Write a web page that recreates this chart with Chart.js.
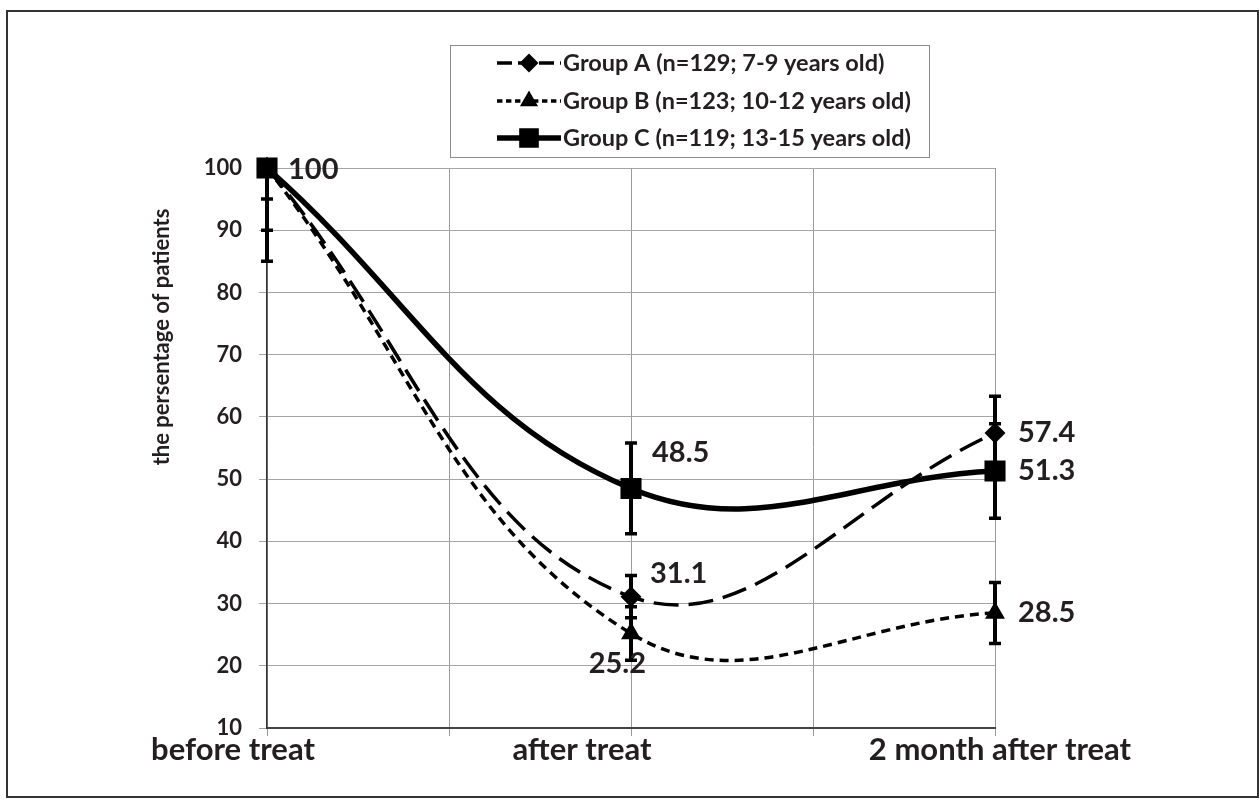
<!DOCTYPE html>
<html>
<head>
<meta charset="utf-8">
<script src="https://cdn.jsdelivr.net/npm/chart.js@4.4.1/dist/chart.umd.min.js"></script>
<style>
  html, body { margin: 0; padding: 0; background: #fff; }
  #wrap { width: 1260px; height: 807px; }
</style>
</head>
<body>
<div id="wrap"><canvas id="chart" width="1260" height="807"></canvas></div>
<script>
// time points (x on a linear scale, gridline every 1 unit)
const categories = ['before treat', 'after treat', '2 month after treat'];
const timeSteps = [0, 2, 4];

const seriesNames = [
    'Group A (n=129; 7-9 years old)',
    'Group B (n=123; 10-12 years old)',
    'Group C (n=119; 13-15 years old)'
];
const groupA = [100, 31.1, 57.4];
const groupB = [100, 25.2, 28.5];
const groupC = [100, 48.5, 51.3];

const errA = [5, 3.4, 5.9];
const errB = [10, 4.3, 4.9];
const errC = [15, 7.3, 7.6];

const yMin = 10;
const yMax = 100;
const yStep = 10;

const INK = '#231f20';
const FONT = 'Lato, "Open Sans", sans-serif';

function toPoints(values) {
    return values.map((v, i) => ({ x: timeSteps[i], y: v }));
}

const datasets = [
    {
        label: seriesNames[0], data: toPoints(groupA), err: errA,
        borderColor: '#000', backgroundColor: '#000', borderWidth: 3.5,
        borderDash: [25, 10], pointStyle: 'rectRot', pointRadius: 8,
        labelPos: [null, { dx: 19, dy: -23, align: 'left' }, { dx: 23, dy: 0, align: 'left' }]
    },
    {
        label: seriesNames[1], data: toPoints(groupB), err: errB,
        borderColor: '#000', backgroundColor: '#000', borderWidth: 3.5,
        borderDash: [9, 6], pointStyle: 'triangle', pointRadius: 8,
        labelPos: [null, { dx: 15, dy: 30, align: 'right' }, { dx: 23, dy: 0, align: 'left' }]
    },
    {
        label: seriesNames[2], data: toPoints(groupC), err: errC,
        borderColor: '#000', backgroundColor: '#000', borderWidth: 5.5,
        borderDash: [], pointStyle: 'rect', pointRadius: 11,
        labelPos: [{ dx: 21, dy: 2, align: 'left' }, { dx: 21, dy: -36, align: 'left' }, { dx: 23, dy: 0, align: 'left' }]
    }
];
datasets.forEach(ds => { ds.clip = false; });

const decor = {
    id: 'decor',
    beforeDraw(chart) {
        const ctx = chart.ctx;
        ctx.save();
        ctx.fillStyle = '#fff';
        ctx.fillRect(0, 0, chart.width, chart.height);
        ctx.strokeStyle = '#333';
        ctx.lineWidth = 2;
        ctx.strokeRect(7, 11, 1251, 786);
        ctx.restore();
    },
    afterDatasetsDraw(chart) {
        const ctx = chart.ctx;
        const xs = chart.scales.x;
        const ys = chart.scales.y;
        const area = chart.chartArea;

        // error bars
        ctx.save();
        ctx.beginPath();
        ctx.rect(area.left - 10, area.top, area.right - area.left + 20, area.bottom - area.top);
        ctx.clip();
        ctx.strokeStyle = '#000';
        chart.data.datasets.forEach(ds => {
            ds.data.forEach((p, i) => {
                const x = xs.getPixelForValue(p.x);
                const yTop = ys.getPixelForValue(p.y + ds.err[i]);
                const yBot = ys.getPixelForValue(p.y - ds.err[i]);
                ctx.lineWidth = 4;
                ctx.beginPath();
                ctx.moveTo(x, yTop);
                ctx.lineTo(x, yBot);
                ctx.stroke();
                ctx.lineWidth = 3.5;
                ctx.beginPath();
                ctx.moveTo(x - 6, yTop);
                ctx.lineTo(x + 6, yTop);
                ctx.moveTo(x - 6, yBot);
                ctx.lineTo(x + 6, yBot);
                ctx.stroke();
            });
        });
        ctx.restore();

        // value labels
        ctx.save();
        ctx.fillStyle = INK;
        ctx.font = 'bold 29px ' + FONT;
        ctx.textBaseline = 'middle';
        chart.data.datasets.forEach(ds => {
            ds.data.forEach((p, i) => {
                const pos = ds.labelPos[i];
                if (!pos) return;
                const x = xs.getPixelForValue(p.x);
                const y = ys.getPixelForValue(p.y);
                ctx.textAlign = pos.align;
                ctx.fillText(String(p.y), x + pos.dx, y + pos.dy);
            });
        });
        ctx.restore();

        // category labels
        const shift = [-34, -49, 5];
        ctx.save();
        ctx.fillStyle = INK;
        ctx.font = 'bold 31px ' + FONT;
        ctx.textAlign = 'center';
        ctx.textBaseline = 'middle';
        categories.forEach((c, i) => {
            ctx.fillText(c, xs.getPixelForValue(timeSteps[i]) + shift[i], 750);
        });
        ctx.restore();

        // y axis title
        ctx.save();
        ctx.fillStyle = INK;
        ctx.font = 'bold 22px ' + FONT;
        ctx.translate(162, 337);
        ctx.rotate(-Math.PI / 2);
        ctx.textAlign = 'center';
        ctx.textBaseline = 'middle';
        ctx.fillText('the persentage of patients', 0, 0);
        ctx.restore();

        // legend box
        ctx.save();
        ctx.strokeStyle = '#8a8a8a';
        ctx.lineWidth = 1;
        ctx.strokeRect(450.5, 45.5, 479, 112);
        const rows = [63, 101, 138];
        chart.data.datasets.forEach((ds, i) => {
            const y = rows[i];
            ctx.strokeStyle = '#000';
            ctx.lineWidth = ds.borderWidth;
            ctx.setLineDash(ds.borderDash.map(d => d * 0.6));
            ctx.beginPath();
            ctx.moveTo(497, y);
            ctx.lineTo(561, y);
            ctx.stroke();
            ctx.setLineDash([]);
            ctx.fillStyle = '#000';
            Chart.helpers.drawPoint(ctx, {
                pointStyle: ds.pointStyle, radius: ds.pointRadius - 1, borderWidth: 1
            }, 529, y);
            ctx.fillStyle = INK;
            ctx.font = 'bold 23.5px ' + FONT;
            ctx.textAlign = 'left';
            ctx.textBaseline = 'middle';
            ctx.fillText(ds.label, 563, y);
        });
        ctx.restore();
    }
};

new Chart(document.getElementById('chart'), {
    type: 'line',
    data: { datasets },
    options: {
        responsive: false,
        animation: false,
        events: [],
        layout: { padding: { left: 0, top: 168, right: 265, bottom: 0 } },
        elements: {
            line: { tension: 0.4, fill: false },
            point: { borderWidth: 1, borderColor: '#000' }
        },
        plugins: {
            legend: { display: false },
            tooltip: { enabled: false }
        },
        scales: {
            x: {
                type: 'linear',
                min: 0,
                max: 4,
                ticks: { stepSize: 1, callback: () => '', font: { size: 1 } },
                grid: { color: '#9a9a9a', lineWidth: 1, tickLength: 8 },
                border: { color: '#444', width: 2 },
                afterFit(scale) { scale.height = 79; }
            },
            y: {
                min: yMin,
                max: yMax,
                ticks: {
                    stepSize: yStep,
                    color: INK,
                    padding: 17,
                    font: { family: FONT, size: 22, weight: 'bold' }
                },
                grid: { color: '#a5a5a5', lineWidth: 1, tickLength: 8 },
                border: { color: '#333', width: 1.5 },
                afterFit(scale) { scale.width = 267; }
            }
        }
    },
    plugins: [decor]
});
</script>
</body>
</html>
